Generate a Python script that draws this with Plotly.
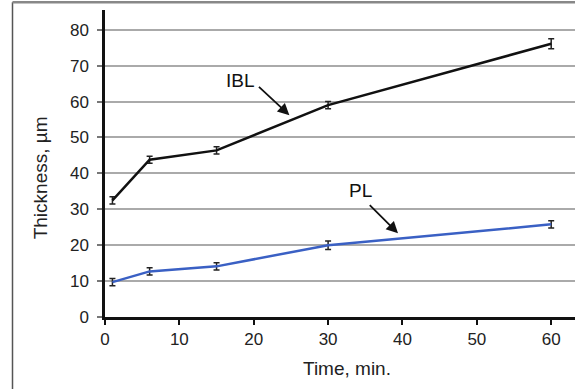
import plotly.graph_objects as go

time_min = [1, 6, 15, 30, 60]
ibl = [32.5, 43.8, 46.4, 59.0, 76.1]
ibl_err = [1.0, 1.0, 1.0, 1.0, 1.4]
pl = [9.7, 12.7, 14.1, 20.0, 25.8]
pl_err = [1.0, 1.0, 1.0, 1.2, 1.0]

x_ticks = [0, 10, 20, 30, 40, 50, 60]
y_ticks = [0, 10, 20, 30, 40, 50, 60, 70, 80]

FONT = "Liberation Sans, Arial, sans-serif"

fig = go.Figure()
fig.add_trace(go.Scatter(
    x=time_min, y=ibl, mode="lines", name="IBL",
    line=dict(color="#111111", width=2.5),
    error_y=dict(type="data", array=ibl_err, color="#222222", thickness=1.5, width=3),
))
fig.add_trace(go.Scatter(
    x=time_min, y=pl, mode="lines", name="PL",
    line=dict(color="#3a60c4", width=2.5),
    error_y=dict(type="data", array=pl_err, color="#222222", thickness=1.5, width=3),
))

# labels with arrows
fig.add_annotation(x=18.2, y=66, text="IBL", showarrow=False,
                   font=dict(family=FONT, size=19, color="#111"))
fig.add_annotation(x=24.8, y=56.2, ax=20.5, ay=64.5, axref="x", ayref="y",
                   text="", showarrow=True, arrowhead=2, arrowsize=1.3,
                   arrowwidth=1.8, arrowcolor="#111")
fig.add_annotation(x=34.3, y=35.3, text="PL", showarrow=False,
                   font=dict(family=FONT, size=19, color="#111"))
fig.add_annotation(x=39.4, y=23.3, ax=35.4, ay=31.6, axref="x", ayref="y",
                   text="", showarrow=True, arrowhead=2, arrowsize=1.3,
                   arrowwidth=1.8, arrowcolor="#111")

# axis titles
fig.add_annotation(xref="paper", yref="paper", x=(347 - 105) / 470, y=-(368 - 316.7) / 307,
                   xanchor="center", yanchor="middle",
                   text="Time, min.", showarrow=False,
                   font=dict(family=FONT, size=19, color="#222"))
fig.add_annotation(xref="paper", yref="paper", x=-(105 - 40) / 470, y=(316.7 - 178) / 307,
                   xanchor="center", yanchor="middle",
                   text="Thickness, µm", showarrow=False, textangle=-90,
                   font=dict(family=FONT, size=19, color="#222"))

# outer frame lines (left and top)
fig.add_shape(type="line", xref="paper", yref="paper",
              x0=-(105 - 12.5) / 470, x1=-(105 - 12.5) / 470,
              y0=-(389 - 316.7) / 307, y1=(316.7 - 2) / 307,
              line=dict(color="#555", width=1.5))
fig.add_shape(type="line", xref="paper", yref="paper",
              x0=-(105 - 12.5) / 470, x1=1.0,
              y0=(316.7 - 2) / 307, y1=(316.7 - 2) / 307,
              line=dict(color="#888", width=2.5))

fig.update_layout(
    width=575, height=389,
    margin=dict(l=105, r=0, t=10, b=72),
    paper_bgcolor="white", plot_bgcolor="white",
    showlegend=False,
    font=dict(family=FONT, size=17, color="#222"),
    xaxis=dict(range=[0, 63.2], tickvals=x_ticks, ticks="outside", ticklen=5,
               tickwidth=2, tickcolor="#111", showline=True, linecolor="#111",
               linewidth=2.5, showgrid=False, zeroline=False,
               tickfont=dict(family=FONT, size=17, color="#222")),
    yaxis=dict(range=[0, 85.5], tickvals=y_ticks, ticks="outside", ticklen=5,
               tickwidth=1.5, tickcolor="#777", showline=True, linecolor="#111",
               linewidth=2.5, showgrid=True, gridcolor="#aaaaaa", gridwidth=1.8,
               zeroline=False, ticklabelstandoff=5,
               tickfont=dict(family=FONT, size=17, color="#222")),
)

fig.write_html("out.html")
